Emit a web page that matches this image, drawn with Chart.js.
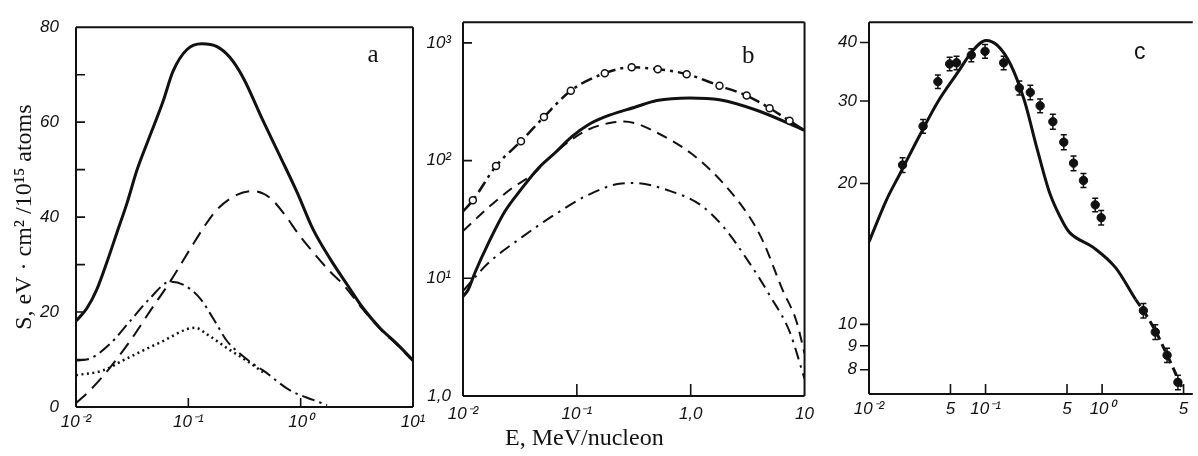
<!DOCTYPE html>
<html>
<head>
<meta charset="utf-8">
<script src="https://cdn.jsdelivr.net/npm/chart.js@4.4.0/dist/chart.umd.min.js"></script>
<style>
  body { margin: 0; background: #fff; width: 1198px; height: 456px; position: relative; overflow: hidden; }
  canvas { position: absolute; top: 0; }
  #xtitle { position: absolute; left: 505px; top: 424px; font: 24px "Liberation Serif", serif; color: #111; white-space: nowrap; }
</style>
</head>
<body>
<canvas id="chartA" width="435" height="456" style="left:0"></canvas>
<canvas id="chartB" width="410" height="456" style="left:412px"></canvas>
<canvas id="chartC" width="408" height="456" style="left:790px"></canvas>
<div id="xtitle">E, MeV/nucleon</div>
<script>
// ---- panel a : stopping power, linear S vs log E ----
const aTotalE = [0.01, 0.0125, 0.0154, 0.0189, 0.0232, 0.0285, 0.0349, 0.0428, 0.0596, 0.073, 0.0973, 0.132, 0.18, 0.235, 0.307, 0.462, 0.656, 0.93, 1.29, 1.83, 2.59, 3.6, 5.1, 7.2, 10];
const aTotalS = [18.1, 20.8, 24.9, 30.6, 36.8, 43, 49.9, 55.5, 64.4, 70.7, 75.3, 76.5, 75.9, 73.6, 69.4, 60.3, 52.8, 45.2, 37.4, 31.2, 25.8, 20.8, 16.6, 13.3, 9.8];
const aDashE = [0.01, 0.0133, 0.0201, 0.0303, 0.0456, 0.0688, 0.104, 0.147, 0.18, 0.27, 0.377, 0.53, 0.754, 0.93, 1.29, 1.83, 2.39, 3.6, 5.1, 7.2, 10];
const aDashS = [0.8, 3.5, 8.3, 13.9, 20.2, 26.4, 33.3, 38.9, 41.6, 44.7, 45.5, 44.1, 39.9, 36.8, 32.6, 28.5, 25.8, 20.5, 16.4, 13.1, 9.7];
const aDashDotE = [0.01, 0.0133, 0.0201, 0.0303, 0.0456, 0.0688, 0.0897, 0.127, 0.166, 0.221, 0.289, 0.376, 0.463, 0.805, 1.29, 1.72];
const aDashDotS = [9.8, 10.2, 13.3, 18.1, 22.9, 26.4, 25.8, 22.9, 18.7, 13.9, 11.2, 9.1, 7.7, 3.5, 1.5, 0.4];
const aDotE = [0.01, 0.0174, 0.0262, 0.0395, 0.0596, 0.0973, 0.115, 0.147, 0.221, 0.333, 0.463];
const aDotS = [6.7, 7.7, 9.8, 11.9, 13.9, 16.4, 16.7, 15.3, 12.4, 9.7, 7.3];
const aXTicks = [0.01, 0.1, 1, 10];
const aXLabels = ['10⁻²', '10⁻¹', '10⁰', '10¹'];
const aYTicks = [0, 20, 40, 60, 80];
const aYMinor = [10, 20, 30, 40, 50, 60, 70];

// ---- panel b : log S vs log E ----
const bFitE = [0.01, 0.0122, 0.0195, 0.0323, 0.0514, 0.0885, 0.176, 0.303, 0.514, 0.922, 1.79, 3.1, 4.93, 7.38, 10];
const bFitS = [37, 46, 90, 146, 235, 393, 553, 620, 598, 543, 432, 357, 279, 218, 181];
const bSolidE = [0.01, 0.0111, 0.0127, 0.0166, 0.0233, 0.033, 0.0455, 0.0641, 0.0904, 0.125, 0.176, 0.323, 0.504, 0.98, 1.79, 3.8, 10];
const bSolidS = [7, 8, 11.1, 19.6, 36.9, 58.3, 85.4, 116, 160, 201, 235, 284, 324, 341, 329, 268, 181];
const bDashE = [0.01, 0.0166, 0.0269, 0.0428, 0.0557, 0.085, 0.125, 0.2, 0.26, 0.33, 0.449, 1.0, 1.91, 3.3, 4.28, 6.4, 8.5, 10];
const bDashS = [25.2, 39.8, 58.3, 79, 103, 145, 183, 210, 215, 207, 183, 116, 65, 33, 21, 8, 4.3, 2.3];
const bDashDotE = [0.01, 0.0166, 0.033, 0.0641, 0.125, 0.248, 0.32, 0.63, 1.22, 1.9, 3.3, 4.97, 7.41, 10];
const bDashDotS = [7.8, 13.4, 22.4, 34.8, 51, 64, 64.5, 56, 42, 28, 13.4, 7.1, 3.5, 1.4];
const bXTicks = [0.01, 0.1, 1, 10];
const bXLabels = ['10⁻²', '10⁻¹', '1,0', '10'];
const bYTicks = [1, 10, 100, 1000];
const bYLabels = ['1,0', '10¹', '10²', '10³'];

// ---- panel c : experiment vs calculation ----
const cExpE = [0.0194, 0.0291, 0.039, 0.0492, 0.0564, 0.0755, 0.099, 0.143, 0.195, 0.242, 0.294, 0.378, 0.469, 0.569, 0.692, 0.873, 0.982, 2.26, 2.86, 3.61, 4.47];
const cExpS = [21.9, 26.5, 33, 36, 36.2, 37.6, 38.3, 36.2, 32, 31.3, 29.3, 27.1, 24.5, 22.1, 20.3, 18, 16.9, 10.7, 9.63, 8.59, 7.52];
const cExpErr = [0.8, 0.9, 1.1, 1.2, 1.2, 1.2, 1.3, 1.2, 1.1, 1.1, 1.0, 1.0, 0.9, 0.8, 0.7, 0.6, 0.6, 0.38, 0.35, 0.3, 0.27];
const cCalcE = [0.01, 0.0142, 0.0183, 0.0269, 0.0397, 0.0586, 0.0755, 0.101, 0.127, 0.164, 0.215, 0.277, 0.357, 0.469, 0.527, 0.84, 1.31, 1.94, 2.26, 2.86, 3.61, 4.83];
const cCalcS = [15, 18.5, 20.9, 25.2, 30.1, 34.7, 38.1, 40.4, 39.4, 35.9, 30.1, 23.7, 19, 16.4, 15.7, 14.6, 13.2, 11.3, 10.7, 9.7, 8.6, 7.35];
const cXTicks = [0.01, 0.05, 0.1, 0.5, 1, 5];
const cXLabels = ['10⁻²', '5', '10⁻¹', '5', '10⁰', '5'];
const cYTicks = [8, 9, 10, 20, 30, 40];

const ink = '#111';
const tickFont = { family: '"Liberation Sans", sans-serif', size: 17, style: 'italic' };

// frame round the plot area plus short tick marks (negative length = outside)
const frameTicks = {
  id: 'frameTicks',
  afterDatasetsDraw(chart, args, opts) {
    const { ctx, chartArea: { left, right, top, bottom }, scales } = chart;
    const sides = opts.sides || 'ltrb';
    ctx.save();
    ctx.strokeStyle = ink;
    ctx.lineWidth = 2;
    ctx.beginPath();
    if (sides.includes('l')) { ctx.moveTo(left, top); ctx.lineTo(left, bottom); }
    if (sides.includes('t')) { ctx.moveTo(left, top); ctx.lineTo(right, top); }
    if (sides.includes('r')) { ctx.moveTo(right, top); ctx.lineTo(right, bottom); }
    if (sides.includes('b')) { ctx.moveTo(left, bottom); ctx.lineTo(right, bottom); }
    ctx.stroke();
    ctx.lineWidth = 1.6;
    ctx.beginPath();
    (opts.xTicks || []).forEach(v => {
      const px = scales.x.getPixelForValue(v);
      ctx.moveTo(px, bottom); ctx.lineTo(px, bottom - opts.xLen);
    });
    (opts.yTicks || []).forEach(v => {
      const py = scales.y.getPixelForValue(v);
      ctx.moveTo(left, py); ctx.lineTo(left + opts.yLen, py);
    });
    ctx.stroke();
    ctx.restore();
  }
};

// panel letter, baseline placed in data coordinates
const panelTag = {
  id: 'panelTag',
  afterDraw(chart, args, opts) {
    const { ctx, scales } = chart;
    ctx.save();
    ctx.fillStyle = ink;
    ctx.font = opts.font;
    ctx.textAlign = 'center';
    ctx.textBaseline = 'alphabetic';
    ctx.fillText(opts.text, scales.x.getPixelForValue(opts.x), scales.y.getPixelForValue(opts.y));
    ctx.restore();
  }
};

// vertical error bars with small caps
const errorBars = {
  id: 'errorBars',
  beforeDatasetsDraw(chart) {
    const { ctx, scales } = chart;
    ctx.save();
    ctx.strokeStyle = ink;
    ctx.lineWidth = 1.5;
    chart.data.datasets.forEach((ds, i) => {
      if (!ds.errors) return;
      chart.getDatasetMeta(i).data.forEach((pt, j) => {
        const y = ds.data[j].y;
        const y1 = scales.y.getPixelForValue(y + ds.errors[j]);
        const y2 = scales.y.getPixelForValue(y - ds.errors[j]);
        ctx.beginPath();
        ctx.moveTo(pt.x, y1); ctx.lineTo(pt.x, y2);
        ctx.moveTo(pt.x - 3, y1); ctx.lineTo(pt.x + 3, y1);
        ctx.moveTo(pt.x - 3, y2); ctx.lineTo(pt.x + 3, y2);
        ctx.stroke();
      });
    });
    ctx.restore();
  }
};

function pts(xs, ys) {
  return xs.map((x, i) => ({ x: x, y: ys[i] }));
}

function curve(xs, ys, width, dash) {
  return {
    data: pts(xs, ys),
    borderColor: ink,
    borderWidth: width,
    borderDash: dash,
    pointRadius: 0,
    fill: false,
    cubicInterpolationMode: 'monotone'
  };
}

const common = {
  responsive: false,
  animation: false,
  events: [],
  plugins: { legend: { display: false }, tooltip: { enabled: false } }
};

// panel a
new Chart(document.getElementById('chartA'), {
  type: 'line',
  data: {
    datasets: [
      curve(aTotalE, aTotalS, 3, []),
      curve(aDashE, aDashS, 2, [14, 8]),
      curve(aDashDotE, aDashDotS, 2, [13, 5, 2.5, 5]),
      curve(aDotE, aDotS, 2.5, [2, 3.5])
    ]
  },
  options: {
    ...common,
    layout: { padding: { top: 22, right: 22, left: 0, bottom: 0 } },
    plugins: {
      ...common.plugins,
      frameTicks: { sides: 'ltrb', xTicks: [0.1, 1], xLen: 9, yTicks: aYMinor, yLen: 9 },
      panelTag: { text: 'a', x: 4.4, y: 72.6, font: '25px "Liberation Serif", serif' }
    },
    scales: {
      x: {
        type: 'logarithmic', min: 0.01, max: 10,
        afterFit: s => { s.height = 49; },
        afterBuildTicks: s => { s.ticks = aXTicks.map(v => ({ value: v })); },
        grid: { display: false, drawTicks: false },
        border: { display: false },
        ticks: { callback: (v, i) => aXLabels[i], font: tickFont, color: ink, padding: 5, maxRotation: 0, autoSkip: false }
      },
      y: {
        type: 'linear', min: 0, max: 80,
        afterFit: s => { s.width = 76; },
        afterBuildTicks: s => { s.ticks = aYTicks.map(v => ({ value: v })); },
        grid: { display: false, drawTicks: false },
        border: { display: false },
        ticks: { font: tickFont, color: ink, padding: 17 },
        title: {
          display: true,
          text: 'S, eV · cm² /10¹⁵ atoms',
          font: { family: '"Liberation Serif", serif', size: 24 },
          color: ink,
          padding: { top: 10, bottom: 0 }
        }
      }
    }
  },
  plugins: [frameTicks, panelTag]
});

// panel b
new Chart(document.getElementById('chartB'), {
  type: 'line',
  data: {
    datasets: [
      {
        ...curve(bFitE, bFitS, 2.5, [12, 5, 3, 5]),
        pointRadius: ctx => (ctx.dataIndex === 0 || ctx.dataIndex === bFitE.length - 1) ? 0 : 3.5,
        pointBackgroundColor: '#fff',
        pointBorderColor: ink,
        pointBorderWidth: 1.5
      },
      curve(bSolidE, bSolidS, 3, []),
      curve(bDashE, bDashS, 2, [11, 7]),
      curve(bDashDotE, bDashDotS, 2, [12, 6, 2.5, 6])
    ]
  },
  options: {
    ...common,
    layout: { padding: { top: 13, right: 17, left: 0, bottom: 0 } },
    plugins: {
      ...common.plugins,
      frameTicks: { sides: 'ltrb', xTicks: [0.1, 1], xLen: 12, yTicks: [10, 100, 1000], yLen: 9 },
      panelTag: { text: 'b', x: 3.2, y: 670, font: '25px "Liberation Serif", serif' }
    },
    scales: {
      x: {
        type: 'logarithmic', min: 0.01, max: 10,
        afterFit: s => { s.height = 60; },
        afterBuildTicks: s => { s.ticks = bXTicks.map(v => ({ value: v })); },
        grid: { display: false, drawTicks: false },
        border: { display: false },
        ticks: { callback: (v, i) => bXLabels[i], font: tickFont, color: ink, padding: 8, maxRotation: 0, autoSkip: false }
      },
      y: {
        type: 'logarithmic', min: 1, max: 1500,
        afterFit: s => { s.width = 51; },
        afterBuildTicks: s => { s.ticks = bYTicks.map(v => ({ value: v })); },
        grid: { display: false, drawTicks: false },
        border: { display: false },
        ticks: { callback: (v, i) => bYLabels[i], font: tickFont, color: ink, padding: 12 }
      }
    }
  },
  plugins: [frameTicks, panelTag]
});

// panel c
new Chart(document.getElementById('chartC'), {
  type: 'line',
  data: {
    datasets: [
      {
        ...curve(cCalcE, cCalcS, 3, []),
        segment: { borderDash: ctx => ctx.p0.parsed.x >= 1.9 ? [8, 5] : undefined }
      },
      {
        data: pts(cExpE, cExpS),
        errors: cExpErr,
        showLine: false,
        pointRadius: 4.2,
        pointBackgroundColor: ink,
        pointBorderColor: ink,
        pointBorderWidth: 1
      }
    ]
  },
  options: {
    ...common,
    layout: { padding: { top: 9, right: 0, left: 0, bottom: 0 } },
    plugins: {
      ...common.plugins,
      frameTicks: { sides: 'ltb', xTicks: [0.05, 0.1, 0.5, 1, 5], xLen: 10, yTicks: cYTicks, yLen: -9 },
      panelTag: { text: 'c', x: 2.1, y: 36.9, font: '23px "Liberation Sans", sans-serif' }
    },
    scales: {
      x: {
        type: 'logarithmic', min: 0.01, max: 6.0,
        afterFit: s => { s.height = 62; },
        afterBuildTicks: s => { s.ticks = cXTicks.map(v => ({ value: v })); },
        grid: { display: false, drawTicks: false },
        border: { display: false },
        ticks: { callback: (v, i) => cXLabels[i], font: tickFont, color: ink, padding: 5, maxRotation: 0, autoSkip: false }
      },
      y: {
        type: 'logarithmic', min: 7.1, max: 44.2,
        afterFit: s => { s.width = 79; },
        afterBuildTicks: s => { s.ticks = cYTicks.map(v => ({ value: v })); },
        grid: { display: false, drawTicks: false },
        border: { display: false },
        ticks: { callback: v => String(v), font: tickFont, color: ink, padding: 12 }
      }
    }
  },
  plugins: [frameTicks, panelTag, errorBars]
});
</script>
</body>
</html>
